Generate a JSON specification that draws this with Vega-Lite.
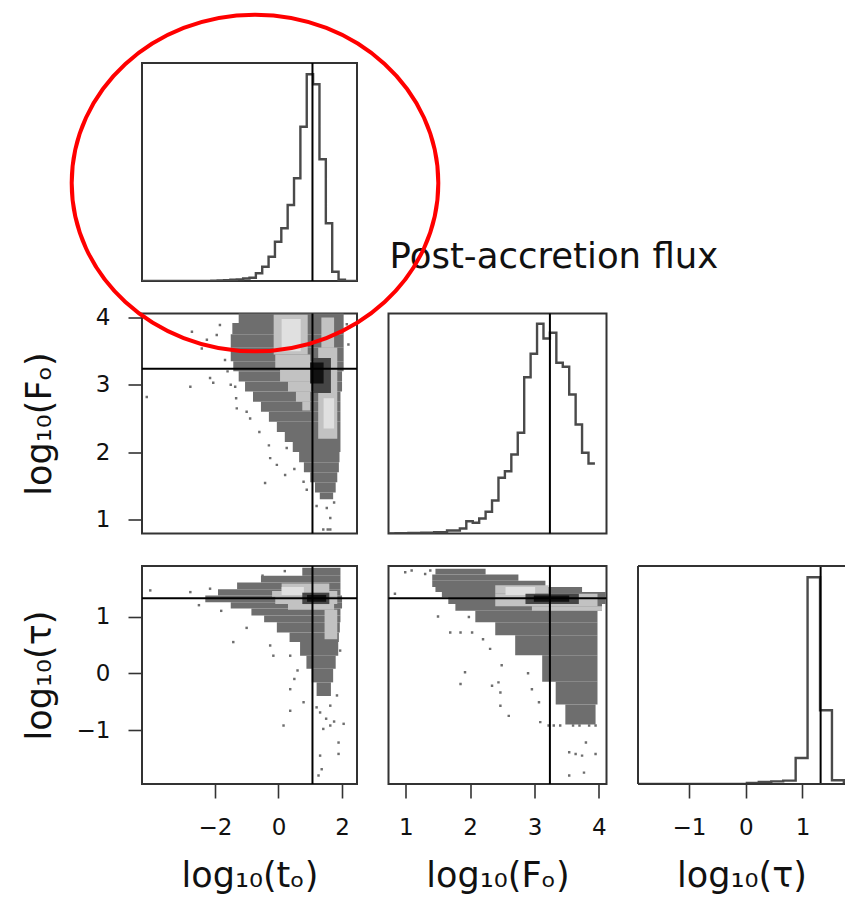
{
  "$schema": "https://vega.github.io/schema/vega-lite/v6.json",
  "background": "white",
  "padding": {"left": 21, "top": 5, "right": 0, "bottom": 4},
  "columns": 3,
  "align": "each",
  "bounds": "flush",
  "spacing": {"row": 32.5, "column": 31.5},
  "datasets": {
    "hist": [
      {"p": "t", "x": -4.29, "h": 0}, {"p": "t", "x": -2.11, "h": 0.3}, {"p": "t", "x": -1.91, "h": 0.5},
      {"p": "t", "x": -1.71, "h": 0.8}, {"p": "t", "x": -1.51, "h": 1.3}, {"p": "t", "x": -1.31, "h": 1.6},
      {"p": "t", "x": -1.11, "h": 2.5}, {"p": "t", "x": -0.91, "h": 3.2}, {"p": "t", "x": -0.71, "h": 7.7},
      {"p": "t", "x": -0.51, "h": 14.3}, {"p": "t", "x": -0.31, "h": 24.3}, {"p": "t", "x": -0.11, "h": 39.3},
      {"p": "t", "x": 0.09, "h": 52.7}, {"p": "t", "x": 0.29, "h": 76}, {"p": "t", "x": 0.49, "h": 102.7},
      {"p": "t", "x": 0.69, "h": 154.3}, {"p": "t", "x": 0.89, "h": 206.7}, {"p": "t", "x": 1.09, "h": 196.7},
      {"p": "t", "x": 1.29, "h": 121.7}, {"p": "t", "x": 1.49, "h": 57.7}, {"p": "t", "x": 1.69, "h": 9.3},
      {"p": "t", "x": 1.89, "h": 1.2}, {"p": "t", "x": 2.09, "h": 0}, {"p": "t", "x": 2.47, "h": 0},

      {"p": "F", "x": 0.73, "h": 0}, {"p": "F", "x": 0.84, "h": 0.3}, {"p": "F", "x": 1.04, "h": 0.5},
      {"p": "F", "x": 1.24, "h": 0.8}, {"p": "F", "x": 1.44, "h": 1.3}, {"p": "F", "x": 1.64, "h": 3},
      {"p": "F", "x": 1.84, "h": 5}, {"p": "F", "x": 1.94, "h": 12.3}, {"p": "F", "x": 2.04, "h": 10.7},
      {"p": "F", "x": 2.14, "h": 15}, {"p": "F", "x": 2.24, "h": 21.7}, {"p": "F", "x": 2.34, "h": 33},
      {"p": "F", "x": 2.44, "h": 55.7}, {"p": "F", "x": 2.54, "h": 62.3}, {"p": "F", "x": 2.64, "h": 79},
      {"p": "F", "x": 2.74, "h": 100.7}, {"p": "F", "x": 2.84, "h": 156.3}, {"p": "F", "x": 2.94, "h": 179.7},
      {"p": "F", "x": 3.04, "h": 209.7}, {"p": "F", "x": 3.14, "h": 195}, {"p": "F", "x": 3.24, "h": 200.7},
      {"p": "F", "x": 3.34, "h": 170.7}, {"p": "F", "x": 3.44, "h": 166.7}, {"p": "F", "x": 3.54, "h": 139},
      {"p": "F", "x": 3.64, "h": 109}, {"p": "F", "x": 3.74, "h": 80.7}, {"p": "F", "x": 3.84, "h": 70},
      {"p": "F", "x": 3.94, "h": 70},

      {"p": "tau", "x": -1.9, "h": 0}, {"p": "tau", "x": 0.02, "h": 1}, {"p": "tau", "x": 0.23, "h": 2},
      {"p": "tau", "x": 0.45, "h": 2.6}, {"p": "tau", "x": 0.66, "h": 3.4}, {"p": "tau", "x": 0.88, "h": 26},
      {"p": "tau", "x": 1.09, "h": 206.7}, {"p": "tau", "x": 1.31, "h": 73.7}, {"p": "tau", "x": 1.52, "h": 3.7},
      {"p": "tau", "x": 1.73, "h": 0}, {"p": "tau", "x": 1.75, "h": 0}
    ],
    "cells": [
      {"p": "A", "lv": "pt", "x1": -1.25, "x2": 2.05, "y1": 3.92, "y2": 4.1},
      {"p": "A", "lv": "pt", "x1": -1.45, "x2": 2.05, "y1": 3.75, "y2": 3.92},
      {"p": "A", "lv": "pt", "x1": -1.5, "x2": 2.05, "y1": 3.55, "y2": 3.75},
      {"p": "A", "lv": "pt", "x1": -1.5, "x2": 2.05, "y1": 3.35, "y2": 3.55},
      {"p": "A", "lv": "pt", "x1": -1.42, "x2": 2.05, "y1": 3.2, "y2": 3.35},
      {"p": "A", "lv": "pt", "x1": -1.25, "x2": 2.0, "y1": 3.05, "y2": 3.2},
      {"p": "A", "lv": "pt", "x1": -1.05, "x2": 2.0, "y1": 2.9, "y2": 3.05},
      {"p": "A", "lv": "pt", "x1": -0.8, "x2": 1.95, "y1": 2.75, "y2": 2.9},
      {"p": "A", "lv": "pt", "x1": -0.55, "x2": 1.95, "y1": 2.6, "y2": 2.75},
      {"p": "A", "lv": "pt", "x1": -0.3, "x2": 1.95, "y1": 2.45, "y2": 2.6},
      {"p": "A", "lv": "pt", "x1": -0.05, "x2": 1.95, "y1": 2.3, "y2": 2.45},
      {"p": "A", "lv": "pt", "x1": 0.2, "x2": 1.95, "y1": 2.15, "y2": 2.3},
      {"p": "A", "lv": "pt", "x1": 0.45, "x2": 1.95, "y1": 2.0, "y2": 2.15},
      {"p": "A", "lv": "pt", "x1": 0.65, "x2": 1.92, "y1": 1.85, "y2": 2.0},
      {"p": "A", "lv": "pt", "x1": 0.8, "x2": 1.9, "y1": 1.7, "y2": 1.85},
      {"p": "A", "lv": "pt", "x1": 1.0, "x2": 1.85, "y1": 1.55, "y2": 1.7},
      {"p": "A", "lv": "pt", "x1": 1.15, "x2": 1.8, "y1": 1.4, "y2": 1.55},
      {"p": "A", "lv": "pt", "x1": 1.3, "x2": 1.72, "y1": 1.3, "y2": 1.4},
      {"p": "A", "lv": "l1", "x1": -0.15, "x2": 0.92, "y1": 3.45, "y2": 4.04},
      {"p": "A", "lv": "l1", "x1": -0.1, "x2": 1.0, "y1": 3.25, "y2": 3.45},
      {"p": "A", "lv": "l1", "x1": 0.05, "x2": 1.02, "y1": 3.05, "y2": 3.25},
      {"p": "A", "lv": "l1", "x1": 0.3, "x2": 1.02, "y1": 2.9, "y2": 3.05},
      {"p": "A", "lv": "l1", "x1": 0.55, "x2": 1.0, "y1": 2.75, "y2": 2.9},
      {"p": "A", "lv": "l1", "x1": 0.75, "x2": 1.0, "y1": 2.62, "y2": 2.75},
      {"p": "A", "lv": "l1", "x1": 1.25, "x2": 1.85, "y1": 2.2, "y2": 3.55},
      {"p": "A", "lv": "l1", "x1": 1.35, "x2": 1.75, "y1": 3.55, "y2": 4.0},
      {"p": "A", "lv": "l2", "x1": 0.1, "x2": 0.7, "y1": 3.5, "y2": 3.98},
      {"p": "A", "lv": "l2", "x1": 1.42, "x2": 1.75, "y1": 2.35, "y2": 2.8},
      {"p": "A", "lv": "c1", "x1": 1.1, "x2": 1.65, "y1": 2.88, "y2": 3.4},
      {"p": "A", "lv": "c2", "x1": 1.0, "x2": 1.42, "y1": 3.02, "y2": 3.33},

      {"p": "B", "lv": "pt", "x1": 0.75, "x2": 1.95, "y1": 1.72, "y2": 1.86},
      {"p": "B", "lv": "pt", "x1": -0.55, "x2": 1.95, "y1": 1.6, "y2": 1.72},
      {"p": "B", "lv": "pt", "x1": -1.3, "x2": 1.95, "y1": 1.48, "y2": 1.6},
      {"p": "B", "lv": "pt", "x1": -1.9, "x2": 1.95, "y1": 1.37, "y2": 1.48},
      {"p": "B", "lv": "pt", "x1": -2.3, "x2": 2.0, "y1": 1.25, "y2": 1.37},
      {"p": "B", "lv": "pt", "x1": -1.5, "x2": 2.0, "y1": 1.14, "y2": 1.25},
      {"p": "B", "lv": "pt", "x1": -0.85, "x2": 1.95, "y1": 1.02, "y2": 1.14},
      {"p": "B", "lv": "pt", "x1": -0.45, "x2": 1.95, "y1": 0.9, "y2": 1.02},
      {"p": "B", "lv": "pt", "x1": -0.05, "x2": 1.93, "y1": 0.72, "y2": 0.9},
      {"p": "B", "lv": "pt", "x1": 0.35, "x2": 1.9, "y1": 0.55, "y2": 0.72},
      {"p": "B", "lv": "pt", "x1": 0.68, "x2": 1.88, "y1": 0.31, "y2": 0.55},
      {"p": "B", "lv": "pt", "x1": 0.88, "x2": 1.8, "y1": 0.08, "y2": 0.31},
      {"p": "B", "lv": "pt", "x1": 1.05, "x2": 1.72, "y1": -0.16, "y2": 0.08},
      {"p": "B", "lv": "pt", "x1": 1.2, "x2": 1.65, "y1": -0.4, "y2": -0.16},
      {"p": "B", "lv": "l1", "x1": 0.1, "x2": 1.6, "y1": 1.45, "y2": 1.58},
      {"p": "B", "lv": "l1", "x1": -0.2, "x2": 1.85, "y1": 1.35, "y2": 1.45},
      {"p": "B", "lv": "l1", "x1": -0.1, "x2": 1.85, "y1": 1.22, "y2": 1.35},
      {"p": "B", "lv": "l1", "x1": 0.3, "x2": 1.75, "y1": 1.12, "y2": 1.22},
      {"p": "B", "lv": "l1", "x1": 1.45, "x2": 1.85, "y1": 0.6, "y2": 1.12},
      {"p": "B", "lv": "l2", "x1": 0.1, "x2": 0.8, "y1": 1.38, "y2": 1.52},
      {"p": "B", "lv": "c1", "x1": 0.75, "x2": 1.6, "y1": 1.22, "y2": 1.42},
      {"p": "B", "lv": "c2", "x1": 0.9, "x2": 1.5, "y1": 1.26, "y2": 1.38},

      {"p": "C", "lv": "pt", "x1": 1.46, "x2": 2.24, "y1": 1.74, "y2": 1.84},
      {"p": "C", "lv": "pt", "x1": 1.41, "x2": 2.75, "y1": 1.63, "y2": 1.74},
      {"p": "C", "lv": "pt", "x1": 1.41, "x2": 3.17, "y1": 1.52, "y2": 1.63},
      {"p": "C", "lv": "pt", "x1": 1.46, "x2": 3.74, "y1": 1.43, "y2": 1.52},
      {"p": "C", "lv": "pt", "x1": 1.56, "x2": 4.11, "y1": 1.34, "y2": 1.43},
      {"p": "C", "lv": "pt", "x1": 1.66, "x2": 4.11, "y1": 1.22, "y2": 1.34},
      {"p": "C", "lv": "pt", "x1": 1.77, "x2": 4.05, "y1": 1.1, "y2": 1.22},
      {"p": "C", "lv": "pt", "x1": 2.08, "x2": 3.98, "y1": 0.9, "y2": 1.1},
      {"p": "C", "lv": "pt", "x1": 2.39, "x2": 3.98, "y1": 0.67, "y2": 0.9},
      {"p": "C", "lv": "pt", "x1": 2.7, "x2": 3.98, "y1": 0.32, "y2": 0.67},
      {"p": "C", "lv": "pt", "x1": 3.12, "x2": 3.98, "y1": -0.15, "y2": 0.32},
      {"p": "C", "lv": "pt", "x1": 3.33, "x2": 3.98, "y1": -0.55, "y2": -0.15},
      {"p": "C", "lv": "pt", "x1": 3.48, "x2": 3.95, "y1": -0.9, "y2": -0.55},
      {"p": "C", "lv": "l1", "x1": 2.39, "x2": 3.22, "y1": 1.4, "y2": 1.55},
      {"p": "C", "lv": "l1", "x1": 2.39, "x2": 3.98, "y1": 1.18, "y2": 1.4},
      {"p": "C", "lv": "l1", "x1": 2.96, "x2": 4.05, "y1": 1.1, "y2": 1.18},
      {"p": "C", "lv": "l2", "x1": 2.55, "x2": 3.01, "y1": 1.38, "y2": 1.52},
      {"p": "C", "lv": "c1", "x1": 2.86, "x2": 3.69, "y1": 1.22, "y2": 1.4},
      {"p": "C", "lv": "c2", "x1": 2.99, "x2": 3.54, "y1": 1.26, "y2": 1.37}
    ],
    "dots": [
      {"p": "A", "x": -2.72, "y": 3.79}, {"p": "A", "x": -2.77, "y": 2.97}, {"p": "A", "x": -2.15, "y": 3.1},
      {"p": "A", "x": -2.05, "y": 3.03}, {"p": "A", "x": -2.41, "y": 3.54}, {"p": "A", "x": -2.25, "y": 3.67},
      {"p": "A", "x": -1.94, "y": 3.74}, {"p": "A", "x": -1.84, "y": 3.89}, {"p": "A", "x": -1.68, "y": 3.37},
      {"p": "A", "x": -1.36, "y": 2.97}, {"p": "A", "x": -1.33, "y": 2.8}, {"p": "A", "x": -1.31, "y": 2.65},
      {"p": "A", "x": -1.0, "y": 2.6}, {"p": "A", "x": -0.89, "y": 2.5}, {"p": "A", "x": -0.42, "y": 1.54},
      {"p": "A", "x": -0.26, "y": 1.91}, {"p": "A", "x": -0.05, "y": 1.81}, {"p": "A", "x": 0.21, "y": 1.66},
      {"p": "A", "x": 0.26, "y": 2.06}, {"p": "A", "x": 0.79, "y": 1.56}, {"p": "A", "x": 0.89, "y": 1.44},
      {"p": "A", "x": 1.52, "y": 1.17}, {"p": "A", "x": 1.63, "y": 1.02}, {"p": "A", "x": 1.41, "y": 0.85},
      {"p": "A", "x": 1.63, "y": 0.85}, {"p": "A", "x": -4.14, "y": 2.82}, {"p": "A", "x": 1.55, "y": 0.85},
      {"p": "A", "x": -0.6, "y": 2.3}, {"p": "A", "x": -0.3, "y": 2.1}, {"p": "A", "x": 0.5, "y": 1.75},
      {"p": "A", "x": 1.2, "y": 1.2}, {"p": "A", "x": 1.75, "y": 1.25}, {"p": "A", "x": 2.15, "y": 3.9},
      {"p": "A", "x": 2.2, "y": 3.6}, {"p": "A", "x": -1.6, "y": 3.2}, {"p": "A", "x": -1.5, "y": 3.0},

      {"p": "B", "x": -4.03, "y": 1.46}, {"p": "B", "x": -2.77, "y": 1.43}, {"p": "B", "x": -2.15, "y": 1.49},
      {"p": "B", "x": -1.42, "y": 0.55}, {"p": "B", "x": -0.26, "y": 0.49}, {"p": "B", "x": -0.16, "y": 0.31},
      {"p": "B", "x": 0.37, "y": 0.31}, {"p": "B", "x": 0.37, "y": -0.28}, {"p": "B", "x": 0.16, "y": -0.92},
      {"p": "B", "x": 0.37, "y": -0.66}, {"p": "B", "x": 0.79, "y": -0.51}, {"p": "B", "x": 1.31, "y": -0.69},
      {"p": "B", "x": 1.41, "y": -0.98}, {"p": "B", "x": 1.63, "y": -0.92}, {"p": "B", "x": 2.05, "y": -0.89},
      {"p": "B", "x": 1.89, "y": -1.22}, {"p": "B", "x": 1.89, "y": -1.42}, {"p": "B", "x": 1.31, "y": -1.45},
      {"p": "B", "x": 1.36, "y": -1.69}, {"p": "B", "x": 1.26, "y": -1.8}, {"p": "B", "x": 1.94, "y": 0.4},
      {"p": "B", "x": 1.84, "y": -0.39}, {"p": "B", "x": 1.63, "y": -0.57}, {"p": "B", "x": -2.5, "y": 1.2},
      {"p": "B", "x": -1.8, "y": 1.1}, {"p": "B", "x": -1.0, "y": 0.8}, {"p": "B", "x": 0.6, "y": 0.05},
      {"p": "B", "x": 0.5, "y": -0.1}, {"p": "B", "x": 1.5, "y": -0.8}, {"p": "B", "x": 1.75, "y": -0.85},
      {"p": "B", "x": 1.2, "y": -0.6}, {"p": "B", "x": -0.5, "y": 1.72}, {"p": "B", "x": 0.2, "y": 1.8},

      {"p": "C", "x": 0.99, "y": 1.78}, {"p": "C", "x": 1.09, "y": 1.81}, {"p": "C", "x": 1.3, "y": 1.75},
      {"p": "C", "x": 1.38, "y": 1.81}, {"p": "C", "x": 0.83, "y": 1.4}, {"p": "C", "x": 1.98, "y": 0.99},
      {"p": "C", "x": 2.03, "y": 0.72}, {"p": "C", "x": 1.69, "y": 0.72}, {"p": "C", "x": 1.85, "y": 0.72},
      {"p": "C", "x": 1.92, "y": 0.02}, {"p": "C", "x": 1.85, "y": -0.19}, {"p": "C", "x": 2.34, "y": -0.22},
      {"p": "C", "x": 2.44, "y": -0.16}, {"p": "C", "x": 2.47, "y": -0.34}, {"p": "C", "x": 2.47, "y": -0.57},
      {"p": "C", "x": 2.6, "y": -0.75}, {"p": "C", "x": 2.31, "y": 0.43}, {"p": "C", "x": 2.49, "y": 0.14},
      {"p": "C", "x": 2.96, "y": -0.28}, {"p": "C", "x": 3.07, "y": -0.51}, {"p": "C", "x": 3.09, "y": -0.86},
      {"p": "C", "x": 3.54, "y": -1.39}, {"p": "C", "x": 3.64, "y": -1.42}, {"p": "C", "x": 3.74, "y": -1.45},
      {"p": "C", "x": 3.8, "y": -1.22}, {"p": "C", "x": 3.77, "y": -1.75}, {"p": "C", "x": 3.54, "y": -1.8},
      {"p": "C", "x": 3.95, "y": -1.42}, {"p": "C", "x": 3.22, "y": -0.92}, {"p": "C", "x": 3.3, "y": -0.92},
      {"p": "C", "x": 3.4, "y": -0.92}, {"p": "C", "x": 3.6, "y": -0.92}, {"p": "C", "x": 3.7, "y": -0.92},
      {"p": "C", "x": 3.85, "y": -0.92}, {"p": "C", "x": 3.95, "y": -0.92}, {"p": "C", "x": 1.5, "y": 1.0},
      {"p": "C", "x": 2.2, "y": 0.6}, {"p": "C", "x": 2.9, "y": 0.0}
    ]
  },
  "concat": [
    {
      "width": 215,
      "height": 218,
      "layer": [
        {
          "data": {"name": "hist"},
          "transform": [{"filter": "datum.p == 't'"}],
          "mark": {"type": "line", "interpolate": "step-after", "color": "#4a4a4a", "strokeWidth": 2.4, "clip": true},
          "encoding": {
            "x": {"field": "x", "type": "quantitative", "scale": {"domain": [-4.29, 2.47], "nice": false, "zero": false}, "axis": null},
            "y": {"field": "h", "type": "quantitative", "scale": {"domain": [0, 218], "nice": false}, "axis": null}
          }
        },
        {
          "data": {"values": [{}]},
          "mark": {"type": "rule", "color": "#000", "strokeWidth": 2},
          "encoding": {"x": {"datum": 1.07}}
        }
      ]
    },
    {
      "width": 218,
      "height": 218,
      "view": {"stroke": null},
      "data": {"values": [{"label": "Post-accretion flux", "x": 0.005, "y": 0.061}]},
      "mark": {"type": "text", "align": "left", "baseline": "alphabetic", "font": "DejaVu Sans", "fontSize": 35.5, "color": "#111"},
      "encoding": {
        "x": {"field": "x", "type": "quantitative", "scale": {"domain": [0, 1], "nice": false}, "axis": null},
        "y": {"field": "y", "type": "quantitative", "scale": {"domain": [0, 1], "nice": false}, "axis": null},
        "text": {"field": "label"}
      }
    },
    {
      "width": 207,
      "height": 218,
      "view": {"stroke": null},
      "data": {"values": []},
      "mark": "point",
      "encoding": {}
    },
    {
      "width": 215,
      "height": 220,
      "layer": [
        {
          "data": {"name": "cells"},
          "transform": [{"filter": "datum.p == 'A'"}],
          "mark": {"type": "rect", "clip": true},
          "encoding": {
            "x": {"field": "x1", "type": "quantitative", "scale": {"domain": [-4.29, 2.47], "nice": false, "zero": false}, "axis": null},
            "x2": {"field": "x2"},
            "y": {"field": "y1", "type": "quantitative", "scale": {"domain": [0.79, 4.06], "nice": false, "zero": false},
                  "axis": {"values": [1, 2, 3, 4], "format": "d", "title": "log₁₀(Fₒ)", "minExtent": 60, "maxExtent": 60, "titlePadding": 25}},
            "y2": {"field": "y2"},
            "color": {"field": "lv", "type": "nominal", "scale": {"domain": ["pt", "l1", "l2", "c1", "c2"], "range": ["#6e6e6e", "#c2c2c2", "#e0e0e0", "#454545", "#111111"]}, "legend": null}
          }
        },
        {
          "data": {"name": "dots"},
          "transform": [{"filter": "datum.p == 'A'"}],
          "mark": {"type": "point", "shape": "square", "filled": true, "size": 6, "color": "#6e6e6e", "opacity": 1, "clip": true},
          "encoding": {
            "x": {"field": "x", "type": "quantitative"},
            "y": {"field": "y", "type": "quantitative"}
          }
        },
        {
          "data": {"values": [{}]},
          "mark": {"type": "rule", "color": "#000", "strokeWidth": 2},
          "encoding": {"x": {"datum": 1.07}}
        },
        {
          "data": {"values": [{}]},
          "mark": {"type": "rule", "color": "#000", "strokeWidth": 2},
          "encoding": {"y": {"datum": 3.24}}
        },
        {
          "data": {"values": [{"cx": -0.737, "cy": 6.0}]},
          "mark": {
            "type": "point",
            "shape": "M 1 0 C 1 0.507 0.5523 0.918 0 0.918 C -0.5523 0.918 -1 0.507 -1 0 C -1 -0.507 -0.5523 -0.918 0 -0.918 C 0.5523 -0.918 1 -0.507 1 0 Z",
            "size": 134400,
            "filled": false,
            "color": "#ff0000",
            "strokeWidth": 4,
            "opacity": 1,
            "clip": false
          },
          "encoding": {
            "x": {"field": "cx", "type": "quantitative"},
            "y": {"field": "cy", "type": "quantitative"}
          }
        }
      ]
    },
    {
      "width": 218,
      "height": 220,
      "layer": [
        {
          "data": {"name": "hist"},
          "transform": [{"filter": "datum.p == 'F'"}],
          "mark": {"type": "line", "interpolate": "step-after", "color": "#4a4a4a", "strokeWidth": 2.4, "clip": true},
          "encoding": {
            "x": {"field": "x", "type": "quantitative", "scale": {"domain": [0.73, 4.12], "nice": false, "zero": false}, "axis": null},
            "y": {"field": "h", "type": "quantitative", "scale": {"domain": [0, 220], "nice": false}, "axis": null}
          }
        },
        {
          "data": {"values": [{}]},
          "mark": {"type": "rule", "color": "#000", "strokeWidth": 2},
          "encoding": {"x": {"datum": 3.24}}
        }
      ]
    },
    {
      "width": 207,
      "height": 220,
      "view": {"stroke": null},
      "data": {"values": []},
      "mark": "point",
      "encoding": {}
    },
    {
      "width": 215,
      "height": 218,
      "layer": [
        {
          "data": {"name": "cells"},
          "transform": [{"filter": "datum.p == 'B'"}],
          "mark": {"type": "rect", "clip": true},
          "encoding": {
            "x": {"field": "x1", "type": "quantitative", "scale": {"domain": [-4.29, 2.47], "nice": false, "zero": false},
                  "axis": {"values": [-2, 0, 2], "format": "d", "title": "log₁₀(tₒ)", "minExtent": 55, "maxExtent": 55, "titlePadding": 19}},
            "x2": {"field": "x2"},
            "y": {"field": "y1", "type": "quantitative", "scale": {"domain": [-1.95, 1.89], "nice": false, "zero": false},
                  "axis": {"values": [-1, 0, 1], "format": "d", "title": "log₁₀(τ)", "minExtent": 60, "maxExtent": 60, "titlePadding": 25}},
            "y2": {"field": "y2"},
            "color": {"field": "lv", "type": "nominal", "scale": {"domain": ["pt", "l1", "l2", "c1", "c2"], "range": ["#6e6e6e", "#c2c2c2", "#e0e0e0", "#454545", "#111111"]}, "legend": null}
          }
        },
        {
          "data": {"name": "dots"},
          "transform": [{"filter": "datum.p == 'B'"}],
          "mark": {"type": "point", "shape": "square", "filled": true, "size": 6, "color": "#6e6e6e", "opacity": 1, "clip": true},
          "encoding": {
            "x": {"field": "x", "type": "quantitative"},
            "y": {"field": "y", "type": "quantitative"}
          }
        },
        {
          "data": {"values": [{}]},
          "mark": {"type": "rule", "color": "#000", "strokeWidth": 2},
          "encoding": {"x": {"datum": 1.07}}
        },
        {
          "data": {"values": [{}]},
          "mark": {"type": "rule", "color": "#000", "strokeWidth": 2},
          "encoding": {"y": {"datum": 1.32}}
        }
      ]
    },
    {
      "width": 218,
      "height": 218,
      "layer": [
        {
          "data": {"name": "cells"},
          "transform": [{"filter": "datum.p == 'C'"}],
          "mark": {"type": "rect", "clip": true},
          "encoding": {
            "x": {"field": "x1", "type": "quantitative", "scale": {"domain": [0.73, 4.12], "nice": false, "zero": false},
                  "axis": {"values": [1, 2, 3, 4], "format": "d", "title": "log₁₀(Fₒ)", "minExtent": 55, "maxExtent": 55, "titlePadding": 19}},
            "x2": {"field": "x2"},
            "y": {"field": "y1", "type": "quantitative", "scale": {"domain": [-1.95, 1.89], "nice": false, "zero": false}, "axis": null},
            "y2": {"field": "y2"},
            "color": {"field": "lv", "type": "nominal", "scale": {"domain": ["pt", "l1", "l2", "c1", "c2"], "range": ["#6e6e6e", "#c2c2c2", "#e0e0e0", "#454545", "#111111"]}, "legend": null}
          }
        },
        {
          "data": {"name": "dots"},
          "transform": [{"filter": "datum.p == 'C'"}],
          "mark": {"type": "point", "shape": "square", "filled": true, "size": 6, "color": "#6e6e6e", "opacity": 1, "clip": true},
          "encoding": {
            "x": {"field": "x", "type": "quantitative"},
            "y": {"field": "y", "type": "quantitative"}
          }
        },
        {
          "data": {"values": [{}]},
          "mark": {"type": "rule", "color": "#000", "strokeWidth": 2},
          "encoding": {"x": {"datum": 3.24}}
        },
        {
          "data": {"values": [{}]},
          "mark": {"type": "rule", "color": "#000", "strokeWidth": 2},
          "encoding": {"y": {"datum": 1.32}}
        }
      ]
    },
    {
      "width": 207,
      "height": 218,
      "view": {"stroke": null},
      "layer": [
        {
          "data": {"name": "hist"},
          "transform": [{"filter": "datum.p == 'tau'"}],
          "mark": {"type": "line", "interpolate": "step-after", "color": "#4a4a4a", "strokeWidth": 2.4, "clip": true},
          "encoding": {
            "x": {"field": "x", "type": "quantitative", "scale": {"domain": [-1.9, 1.75], "nice": false, "zero": false},
                  "axis": {"values": [-1, 0, 1], "format": "d", "title": "log₁₀(τ)", "minExtent": 55, "maxExtent": 55, "titlePadding": 19}},
            "y": {"field": "h", "type": "quantitative", "scale": {"domain": [0, 218], "nice": false}, "axis": null}
          }
        },
        {
          "data": {"values": [{}]},
          "mark": {"type": "rule", "color": "#000", "strokeWidth": 2},
          "encoding": {"x": {"datum": 1.32}}
        },
        {
          "data": {"values": [{}]},
          "mark": {"type": "rule", "color": "#333", "strokeWidth": 2},
          "encoding": {"x": {"datum": -1.9}}
        },
        {
          "data": {"values": [{}]},
          "mark": {"type": "rule", "color": "#333", "strokeWidth": 2},
          "encoding": {"y": {"datum": 218}}
        },
        {
          "data": {"values": [{}]},
          "mark": {"type": "rule", "color": "#333", "strokeWidth": 2},
          "encoding": {"y": {"datum": 0}}
        }
      ]
    }
  ],
  "config": {
    "font": "DejaVu Sans",
    "view": {"stroke": "#333", "strokeWidth": 2},
    "axis": {
      "domain": false,
      "grid": false,
      "ticks": true,
      "tickSize": 14,
      "tickWidth": 1.6,
      "tickColor": "#333",
      "labelFont": "DejaVu Sans",
      "labelFontSize": 23,
      "labelColor": "#111",
      "labelPadding": 18,
      "labelFlush": false,
      "labelOverlap": false,
      "titleFont": "DejaVu Sans",
      "titleFontSize": 35,
      "titleFontWeight": "normal",
      "titleColor": "#111"
    }
  }
}
